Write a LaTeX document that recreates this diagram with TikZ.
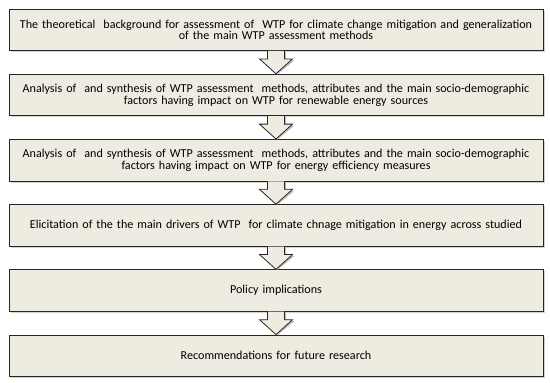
\documentclass[tikz,border=0pt]{standalone}
\usepackage{fontspec}
\setmainfont{Carlito}
\usepackage{tikz}
\usetikzlibrary{
    calc,
    positioning,
    shadows
}

\definecolor{boxfill}{HTML}{EEECE1}
\definecolor{boxline}{HTML}{262626}

\tikzset{
    stagebox/.style={draw=boxline, line width=0.8pt, fill=boxfill,
        minimum width=534pt, minimum height=41.5pt, text width=530pt,
        align=center, inner sep=0pt,
        font=\fontsize{12.1}{11.8}\selectfont,
        drop shadow={shadow xshift=1.6pt, shadow yshift=-1.6pt, fill=black!35}},
    downarrow/.style={draw=boxline, line width=0.8pt, fill=boxfill, line join=miter}
}

% block arrow from the bottom of one box to the top of the next
\newcommand{\flowarrow}[2]{%
    \fill[black!25] ($(#1.south)+(-7pt,-1pt)$) -- ($(#1.south)+(-7pt,-9.5pt)$)
        -- ($(#1.south)+(-14.5pt,-9.5pt)$) -- ($(#2.north)+(1.5pt,-0.5pt)$)
        -- ($(#1.south)+(18.5pt,-9.5pt)$) -- ($(#1.south)+(10pt,-9.5pt)$)
        -- ($(#1.south)+(10pt,-1pt)$) -- cycle;
    \draw[downarrow] ($(#1.south)+(-8.5pt,0)$) -- ($(#1.south)+(-8.5pt,-8pt)$)
        -- ($(#1.south)+(-16.5pt,-8pt)$) -- (#2.north)
        -- ($(#1.south)+(16.5pt,-8pt)$) -- ($(#1.south)+(8.5pt,-8pt)$)
        -- ($(#1.south)+(8.5pt,0)$);%
}

\begin{document}
\begin{tikzpicture}

\useasboundingbox (0,0) rectangle (550pt,-383pt);

% Stages
\node[stagebox] (theory) at (276pt,-29.75pt)
    {The theoretical\ \ background for assessment of\ \ WTP for climate change mitigation and generalization\\ of the main WTP assessment methods};
\node[stagebox, below=22.9pt of theory] (renewable)
    {Analysis of\ \ and synthesis of WTP assessment\ \ methods, attributes and the main socio-demographic\\ factors having impact on WTP for renewable energy sources};
\node[stagebox, below=22.9pt of renewable] (efficiency)
    {Analysis of\ \ and synthesis of WTP assessment\ \ methods, attributes and the main socio-demographic\\ factors having impact on WTP for energy efficiency measures};
\node[stagebox, below=22.9pt of efficiency] (drivers)
    {Elicitation of the the main drivers of WTP\ \ for climate chnage mitigation in energy across studied};
\node[stagebox, below=22.9pt of drivers] (policy)
    {Policy implications};
\node[stagebox, below=22.9pt of policy] (future)
    {Recommendations for future research};

% Arrows
\foreach \from/\to in {theory/renewable, renewable/efficiency, efficiency/drivers,
    drivers/policy, policy/future}
    \flowarrow{\from}{\to};

\end{tikzpicture}
\end{document}
